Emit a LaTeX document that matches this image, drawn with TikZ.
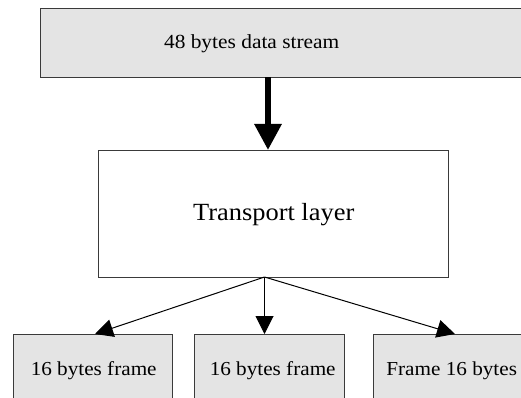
\documentclass[tikz,border=0pt]{standalone}
\usepackage{fontspec}
\setmainfont{Liberation Serif}[FakeStretch=1.07]
\usetikzlibrary{arrows.meta}
\definecolor{boxfill}{HTML}{E4E4E4}
\definecolor{boxline}{HTML}{3A3A3A}
\begin{document}
\begin{tikzpicture}[x=1pt,y=-1pt,
  box/.style={draw=boxline, line width=1pt, rectangle, inner sep=0pt, anchor=north west},
  graybox/.style={box, fill=boxfill},
  lbl/.style={inner sep=0pt, anchor=base, text=black},
  thick arrow/.style={line width=6pt, -{Triangle[length=26pt,width=26pt]}},
  thin arrow/.style={line width=1pt, -{Triangle[length=18pt,width=18pt]}}]
\useasboundingbox (0,0) rectangle (521,398);
\clip (0,0) rectangle (521,398);
% boxes
\node[graybox, minimum width=481pt, minimum height=69pt] (stream) at (39.5,8.5) {};
\node[box, fill=white, minimum width=350pt, minimum height=127pt] (transport) at (98,150) {};
\node[graybox, minimum width=159.5pt, minimum height=75pt] (f1) at (12.5,334) {};
\node[graybox, minimum width=150.5pt, minimum height=75pt] (f2) at (193.5,334) {};
\node[graybox, minimum width=160pt, minimum height=75pt] (f3) at (372.5,334) {};
% labels
\node[lbl, font=\fontsize{20}{24}\selectfont] (streamlbl) at (251.7,48.3) {48 bytes data stream};
\node[lbl, font=\fontsize{24.7}{28}\selectfont] (translbl) at (273.7,220.7) {Transport layer};
\node[lbl, font=\fontsize{19.8}{24}\selectfont] (f1lbl) at (93.7,375.7) {16 bytes frame};
\node[lbl, font=\fontsize{19.8}{24}\selectfont] (f2lbl) at (272.7,375.7) {16 bytes frame};
\node[lbl, font=\fontsize{19.8}{24}\selectfont] (f3lbl) at (451.7,375.7) {Frame 16 bytes};
% connectors
\coordinate (streamout) at (268,77.5);
\coordinate (transin) at (268,150);
\coordinate (transout) at (264.5,277);
\coordinate (f1in) at (95,334);
\coordinate (f2in) at (264.5,334);
\coordinate (f3in) at (455,334);
\draw[thick arrow] (streamout) -- (transin);
\draw[thin arrow] (transout) -- (f1in);
\draw[thin arrow] (transout) -- (f2in);
\draw[thin arrow] (transout) -- (f3in);
\end{tikzpicture}
\end{document}
